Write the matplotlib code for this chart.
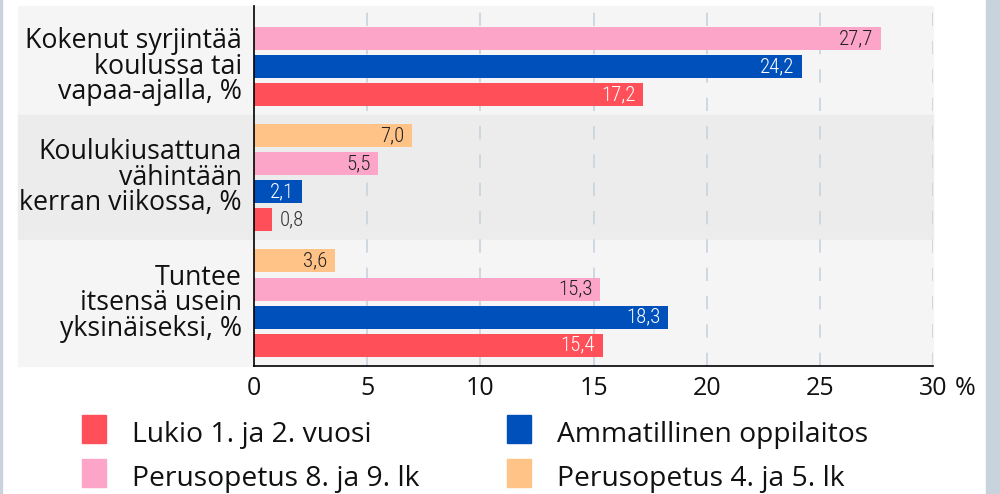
import matplotlib
matplotlib.use("Agg")
import matplotlib.pyplot as plt
from matplotlib import font_manager
from matplotlib.patches import Rectangle

# aineisto
categories = [
    "Kokenut syrjintää\nkoulussa tai\nvapaa-ajalla, %",
    "Koulukiusattuna\nvähintään\nkerran viikossa, %",
    "Tuntee\nitsensä usein\nyksinäiseksi, %",
]
series_names = ["Perusopetus 4. ja 5. lk", "Perusopetus 8. ja 9. lk",
                "Ammatillinen oppilaitos", "Lukio 1. ja 2. vuosi"]
perus45 = [None, 7.0, 3.6]
perus89 = [27.7, 5.5, 15.3]
ammat = [24.2, 2.1, 18.3]
lukio = [17.2, 0.8, 15.4]
series_values = [perus45, perus89, ammat, lukio]
xticks = [0, 5, 10, 15, 20, 25, 30]

colors = ["#ffc387", "#fca5c8", "#0050bb", "#ff4f58"]
text_colors = ["#222222", "#222222", "white", "white"]

available = {f.name for f in font_manager.fontManager.ttflist}
main_font = "Open Sans" if "Open Sans" in available else "DejaVu Sans"
num_font = "Roboto Condensed" if "Roboto Condensed" in available else "Roboto"
plt.rcParams["font.family"] = [main_font, "DejaVu Sans"]

fig = plt.figure(figsize=(10, 4.94), dpi=100)
ax = fig.add_axes([0.254, 1 - 366 / 494, 0.679, 360 / 494])
ax.set_facecolor("none")

# reunat
fig.add_artist(Rectangle((0, 0), 0.002, 1, transform=fig.transFigure, color="#c9d3dd", zorder=-5))
fig.add_artist(Rectangle((0.986, 0), 0.014, 1, transform=fig.transFigure, color="#c9d3dd", zorder=-5))

# palkkien sijainnit
gap = 1.46
pos = 0.0
group_positions = []
for g in range(len(categories)):
    ys = []
    for s in range(len(series_values)):
        if series_values[s][g] is None:
            continue
        ys.append(pos)
        pos += 1
    group_positions.append(ys)
    pos += gap - 1

top = -1.16
bottom = group_positions[-1][-1] + 0.74
bounds = [top]
for g in range(len(categories) - 1):
    bounds.append((group_positions[g][-1] + group_positions[g + 1][0]) / 2)
bounds.append(bottom)

bg_colors = ["#f5f5f5", "#ececec", "#f5f5f5"]
left_ext = (18 - 254) / 679
for g in range(len(categories)):
    ax.add_patch(Rectangle((left_ext, bounds[g]), 1 - left_ext, bounds[g + 1] - bounds[g],
                           transform=ax.get_yaxis_transform(), color=bg_colors[g],
                           clip_on=False, zorder=0))
    yc = (group_positions[g][0] + group_positions[g][-1]) / 2
    ax.text((242 - 254) / 679, yc, categories[g], transform=ax.get_yaxis_transform(),
            ha="right", va="center", fontsize=19.3, linespacing=0.88, color="#111111", zorder=3)

for g in range(len(categories)):
    i = 0
    for s in range(len(series_values)):
        v = series_values[s][g]
        if v is None:
            continue
        y = group_positions[g][i]
        i += 1
        ax.barh(y, v, height=0.82, color=colors[s], zorder=2)
        label = f"{v:.1f}".replace(".", ",")
        if v < 1.5:
            ax.annotate(label, (v, y), xytext=(5.5, 0), textcoords="offset points",
                        ha="left", va="center", fontsize=15, color="#333333",
                        fontfamily=num_font, fontweight="light", zorder=4)
        else:
            ax.annotate(label, (v, y), xytext=(-5.5, 0), textcoords="offset points",
                        ha="right", va="center", fontsize=15, color=text_colors[s],
                        fontfamily=num_font, fontweight="light", zorder=4)

ax.set_xlim(0, 30)
ax.set_ylim(bottom, top)
ax.set_xticks(xticks)
ax.set_xticklabels([str(t) for t in xticks])
ax.set_yticks([])
ax.tick_params(axis="x", length=0, pad=7, labelsize=18, labelcolor="#111111")
ax.annotate("%", xy=(30, 0), xycoords=ax.get_xaxis_transform(), xytext=(16, -7),
            textcoords="offset points", ha="left", va="top", fontsize=18, color="#111111")
for t in xticks[1:]:
    ax.axvline(t, color="#c8d2dc", lw=1.2, linestyle=(0, (8, 9)), zorder=1)

for side in ["top", "right"]:
    ax.spines[side].set_visible(False)
for side in ["left", "bottom"]:
    ax.spines[side].set_color("black")
    ax.spines[side].set_linewidth(1.2)
    ax.spines[side].set_zorder(5)

# selite
col_x = [82, 507]
row_top = [415, 459]
for (col, row), s in zip([(0, 0), (0, 1), (1, 0), (1, 1)], [3, 1, 2, 0]):
    x0 = col_x[col]
    y0 = row_top[row]
    fig.add_artist(Rectangle((x0 / 1000, 1 - (y0 + 28) / 494), 24 / 1000, 28 / 494,
                             transform=fig.transFigure, color=colors[s]))
    fig.text((x0 + 50) / 1000, 1 - (y0 + 27) / 494, series_names[s], ha="left", va="baseline",
             fontsize=20.3, color="#111111")

fig.savefig("out.png", dpi=100, facecolor="white")
